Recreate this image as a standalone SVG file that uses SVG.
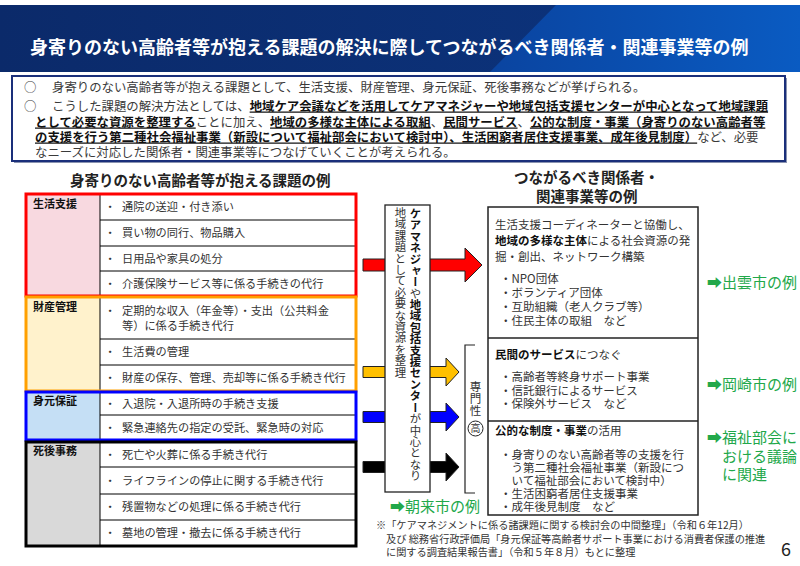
<svg xmlns="http://www.w3.org/2000/svg" width="800" height="566" viewBox="0 0 800 566">
<defs>
<linearGradient id="tbR" x1="0" y1="0" x2="1" y2="0">
<stop offset="0" stop-color="#0a44a0"/>
<stop offset="1" stop-color="#0a5bc2"/>
</linearGradient>
<linearGradient id="tbL" x1="0" y1="0" x2="1" y2="0">
<stop offset="0" stop-color="#0b2a6a"/>
<stop offset="1" stop-color="#0c3580"/>
</linearGradient>
<style>
text{font-family:"Noto Sans CJK JP","Noto Sans CJK SC",sans-serif}
.title{font-size:18px;font-weight:bold;fill:#ffffff}
.intro{font-size:12.4px;fill:#3a3a3a}
.ub{font-weight:bold;fill:#111111;text-decoration:underline}
.hd{font-size:14.5px;font-weight:bold;fill:#222222}
.cat{font-size:11px;font-weight:bold;fill:#111111}
.item{font-size:11.2px;fill:#333333}
.rb{font-size:11.5px;fill:#333333}
.bk{font-weight:bold;fill:#111111}
.grn{font-size:15px;fill:#22a84a}
.vt{writing-mode:vertical-rl;font-size:11.4px;fill:#333333}
.fn{font-size:10.2px;fill:#333333}
.row{stroke:#000000;stroke-width:1;fill:none}
.arr{stroke:#222222;stroke-width:1}
</style>
</defs>
<rect x="0" y="0" width="800" height="566" fill="#ffffff"/>

<g id="title-bar">
<rect x="0" y="5" width="800" height="67" fill="url(#tbL)"/>
<polygon points="556,5 800,5 800,72 490,72" fill="url(#tbR)"/>
<text class="title" x="30" y="54">身寄りのない高齢者等が抱える課題の解決に際してつながるべき関係者・関連事業等の例</text>
</g>

<g id="intro">
<rect x="14" y="78" width="773" height="85" fill="#8a93b0"/>
<rect x="12" y="76" width="773" height="85" fill="#ffffff" stroke="#1a2f7a" stroke-width="2"/>
<text class="intro" x="24" y="91.5">○</text>
<text class="intro" x="52" y="91.5">身寄りのない高齢者等が抱える課題として、生活支援、財産管理、身元保証、死後事務などが挙げられる。</text>
<text class="intro" x="24" y="110.5">○</text>
<text class="intro" x="52" y="110.5">こうした課題の解決方法としては、<tspan class="ub">地域ケア会議などを活用してケアマネジャーや地域包括支援センターが中心となって地域課題</tspan></text>
<text class="intro" x="35" y="126.5"><tspan class="ub">として必要な資源を整理する</tspan>ことに加え、<tspan class="ub">地域の多様な主体による取組</tspan>、<tspan class="ub">民間サービス</tspan>、<tspan class="ub">公的な制度・事業（身寄りのない高齢者等</tspan></text>
<text class="intro" x="35" y="141.5"><tspan class="ub">の支援を行う第二種社会福祉事業（新設について福祉部会において検討中）、生活困窮者居住支援事業、成年後見制度）</tspan>など、必要</text>
<text class="intro" x="35" y="156.5">なニーズに対応した関係者・関連事業等につなげていくことが考えられる。</text>
</g>

<g id="left-header">
<text class="hd" x="70" y="186">身寄りのない高齢者等が抱える課題の例</text>
</g>

<g id="connectors">
<path class="arr" d="M363,259 H465 V248 L482,265 L465,282 V271 H363 Z" fill="#ff0000"/>
<path class="arr" d="M363,366.5 H446 V358 L459,372 L446,386 V377.5 H363 Z" fill="#ffc000"/>
<path class="arr" d="M363,411.5 H446 V403 L459,417 L446,431 V422.5 H363 Z" fill="#0000ff"/>
<path class="arr" d="M363,461.5 H446 V453 L459,467 L446,481 V472.5 H363 Z" fill="#000000"/>
<path d="M475,345 H465 V493 H475" fill="none" stroke="#222222" stroke-width="1.2"/>
</g>

<g id="life-support">
<rect x="26" y="194" width="330" height="102" fill="#ffffff"/>
<rect x="26" y="194" width="74" height="102" fill="#f8d9e0"/>
<line class="row" x1="100" y1="194" x2="100" y2="296"/>
<line class="row" x1="100" y1="220" x2="356" y2="220"/>
<line class="row" x1="100" y1="246" x2="356" y2="246"/>
<line class="row" x1="100" y1="271" x2="356" y2="271"/>
<rect x="26" y="194" width="330" height="102" fill="none" stroke="#ff0000" stroke-width="3"/>
<text class="cat" x="33" y="208">生活支援</text>
<text class="item" x="104.5" y="211">・</text><text class="item" x="122" y="211">通院の送迎・付き添い</text>
<text class="item" x="104.5" y="237">・</text><text class="item" x="122" y="237">買い物の同行、物品購入</text>
<text class="item" x="104.5" y="262.5">・</text><text class="item" x="122" y="262.5">日用品や家具の処分</text>
<text class="item" x="104.5" y="287.5">・</text><text class="item" x="122" y="287.5">介護保険サービス等に係る手続きの代行</text>
</g>

<g id="property-management">
<rect x="26" y="297" width="330" height="94" fill="#ffffff"/>
<rect x="26" y="297" width="74" height="94" fill="#fff2cc"/>
<line class="row" x1="100" y1="297" x2="100" y2="391"/>
<line class="row" x1="100" y1="339" x2="356" y2="339"/>
<line class="row" x1="100" y1="365" x2="356" y2="365"/>
<rect x="26" y="297" width="330" height="94" fill="none" stroke="#ffa000" stroke-width="3"/>
<text class="cat" x="33" y="311">財産管理</text>
<text class="item" x="104.5" y="315">・</text><text class="item" x="122" y="315">定期的な収入（年金等）・支出（公共料金</text>
<text class="item" x="122" y="330">等）に係る手続き代行</text>
<text class="item" x="104.5" y="356">・</text><text class="item" x="122" y="356">生活費の管理</text>
<text class="item" x="104.5" y="382">・</text><text class="item" x="122" y="382">財産の保存、管理、売却等に係る手続き代行</text>
</g>

<g id="guarantee">
<rect x="26" y="392" width="330" height="48" fill="#ffffff"/>
<rect x="26" y="392" width="74" height="48" fill="#c5dff5"/>
<line class="row" x1="100" y1="392" x2="100" y2="440"/>
<line class="row" x1="100" y1="415" x2="356" y2="415"/>
<rect x="26" y="392" width="330" height="48" fill="none" stroke="#0000ff" stroke-width="3"/>
<text class="cat" x="33" y="405">身元保証</text>
<text class="item" x="104.5" y="407.5">・</text><text class="item" x="122" y="407.5">入退院・入退所時の手続き支援</text>
<text class="item" x="104.5" y="431.5">・</text><text class="item" x="122" y="431.5">緊急連絡先の指定の受託、緊急時の対応</text>
</g>

<g id="after-death">
<rect x="26" y="442" width="330" height="104" fill="#ffffff"/>
<rect x="26" y="442" width="74" height="104" fill="#d9d9d9"/>
<line class="row" x1="100" y1="442" x2="100" y2="546"/>
<line class="row" x1="100" y1="467" x2="356" y2="467"/>
<line class="row" x1="100" y1="494" x2="356" y2="494"/>
<line class="row" x1="100" y1="520" x2="356" y2="520"/>
<rect x="26" y="442" width="330" height="104" fill="none" stroke="#000000" stroke-width="3"/>
<text class="cat" x="33" y="455">死後事務</text>
<text class="item" x="104.5" y="458.5">・</text><text class="item" x="122" y="458.5">死亡や火葬に係る手続き代行</text>
<text class="item" x="104.5" y="484.5">・</text><text class="item" x="122" y="484.5">ライフラインの停止に関する手続き代行</text>
<text class="item" x="104.5" y="511">・</text><text class="item" x="122" y="511">残置物などの処理に係る手続き代行</text>
<text class="item" x="104.5" y="537">・</text><text class="item" x="122" y="537">墓地の管理・撤去に係る手続き代行</text>
</g>

<g id="care-manager">
<rect x="385" y="205" width="45" height="287" fill="#ffffff" stroke="#222222" stroke-width="1.3"/>
<text class="vt" x="415.5" y="208"><tspan class="bk">ケアマネジャー</tspan>や<tspan class="bk">地域包括支援センター</tspan>が中心となり</text>
<text class="vt" x="400.5" y="207">地域課題として必要な資源を整理</text>
</g>

<g id="expertise">
<text class="vt" x="475.5" y="381" style="font-size:11.5px;letter-spacing:0.5px">専門性</text>
<circle cx="475.5" cy="428.5" r="7.5" fill="#ffffff" stroke="#222222" stroke-width="1"/>
<text x="475.5" y="432" font-size="10" text-anchor="middle" fill="#333333">高</text>
</g>

<g id="right-header">
<text class="hd" x="514" y="183">つながるべき関係者・</text>
<text class="hd" x="536" y="202">関連事業等の例</text>
</g>

<g id="related-box">
<rect x="488" y="207" width="210" height="308" fill="#ffffff" stroke="#222222" stroke-width="1.5"/>
<line x1="488" y1="338" x2="698" y2="338" stroke="#222222" stroke-width="1.5"/>
<line x1="488" y1="421" x2="698" y2="421" stroke="#222222" stroke-width="1.5"/>
</g>

<g id="community">
<text class="rb" x="495" y="228.5">生活支援コーディネーターと協働し、</text>
<text class="rb" x="495" y="244.5"><tspan class="bk">地域の多様な主体</tspan>による社会資源の発</text>
<text class="rb" x="495" y="260.5">掘・創出、ネットワーク構築</text>
<text class="rb" x="500" y="282.5">・NPO団体</text>
<text class="rb" x="500" y="296.5">・ボランティア団体</text>
<text class="rb" x="500" y="310.5">・互助組織（老人クラブ等）</text>
<text class="rb" x="500" y="324.5">・住民主体の取組　など</text>
</g>

<g id="private-services">
<text class="rb" x="495" y="359"><tspan class="bk">民間のサービス</tspan>につなぐ</text>
<text class="rb" x="500" y="381">・高齢者等終身サポート事業</text>
<text class="rb" x="500" y="394.5">・信託銀行によるサービス</text>
<text class="rb" x="500" y="408">・保険外サービス　など</text>
</g>

<g id="public-system">
<text class="rb" x="495" y="435"><tspan class="bk">公的な制度・事業</tspan>の活用</text>
<text class="rb" x="500" y="459">・身寄りのない高齢者等の支援を行</text>
<text class="rb" x="511.5" y="472">う第二種社会福祉事業（新設につ</text>
<text class="rb" x="511.5" y="485">いて福祉部会において検討中）</text>
<text class="rb" x="500" y="498">・生活困窮者居住支援事業</text>
<text class="rb" x="500" y="511">・成年後見制度　など</text>
</g>

<g id="examples">
<text class="grn" x="707" y="287.5">➡出雲市の例</text>
<text class="grn" x="707" y="390">➡岡崎市の例</text>
<text class="grn" x="707" y="443">➡福祉部会に</text>
<text class="grn" x="722" y="462">おける議論</text>
<text class="grn" x="722" y="480">に関連</text>
<text class="grn" x="390" y="512">➡朝来市の例</text>
</g>

<g id="footnote">
<text class="fn" x="376" y="529">※「ケアマネジメントに係る諸課題に関する検討会の中間整理」（令和６年12月）</text>
<text class="fn" x="386" y="543">及び 総務省行政評価局「身元保証等高齢者サポート事業における消費者保護の推進</text>
<text class="fn" x="386" y="556">に関する調査結果報告書」（令和５年８月）もとに整理</text>
<text x="781" y="556" font-size="18" fill="#222222">6</text>
</g>
</svg>
